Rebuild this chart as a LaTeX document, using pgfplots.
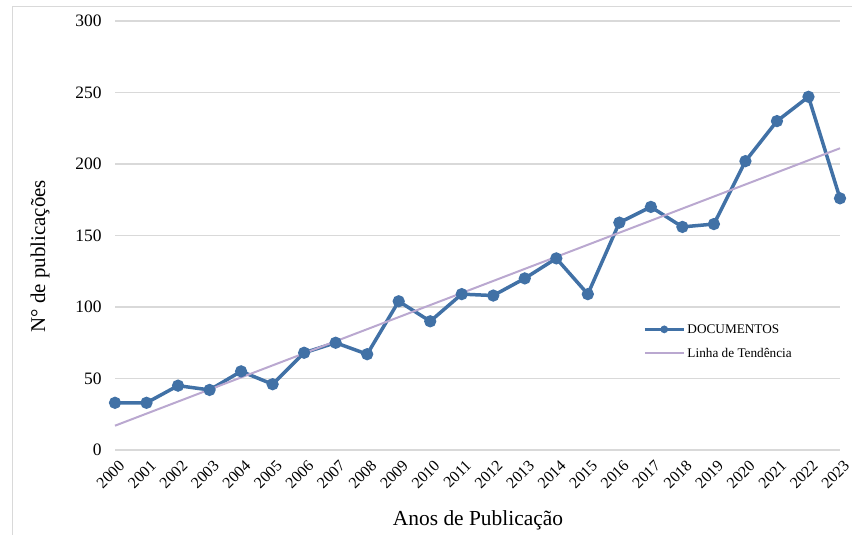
\documentclass[border=0pt]{standalone}
\usepackage{fontspec}
\setmainfont{Liberation Serif}
\usepackage{pgfplots}
\pgfplotsset{compat=1.18}
\definecolor{docblue}{RGB}{65,113,166}
\definecolor{trendc}{RGB}{186,168,208}
\definecolor{gridc}{RGB}{217,217,217}
\pgfplotsset{
  docleg/.style={legend image code/.code={\draw[mark repeat=2,mark phase=2,##1,mark size=2bp] plot coordinates {(0bp,0bp)(19.5bp,0bp)(39bp,0bp)};}},
  trendleg/.style={legend image code/.code={\draw[##1] (0bp,0bp) -- (39bp,0bp);}},
}
\begin{document}
\begin{tikzpicture}
\path[use as bounding box] (0,0) rectangle (852bp,535bp);
\draw[gridc, line width=1bp] (12bp,0) -- (12bp,528bp) -- (852bp,528bp);
\begin{axis}[
  at={(115bp,85bp)}, anchor=south west,
  scale only axis, width=725bp, height=429bp,
  xmin=2000, xmax=2023, ymin=0, ymax=300,
  xtick={2000,...,2023}, ytick={0,50,...,300},
  clip=false,
  axis line style={draw=none}, tick style={draw=none},
  ymajorgrids, grid style={gridc, line width=1.3bp},
  /pgf/number format/assume math mode=true,
  /pgf/number format/1000 sep={},
  yticklabel style={font=\fontsize{17.5}{17.5}\selectfont, xshift=-10bp},
  xticklabel style={font=\fontsize{16}{16}\selectfont, inner sep=1bp, rotate=45, anchor=east, xshift=-3.3bp, yshift=-14bp},
  xlabel={Anos de Publicação},
  ylabel={N° de publicações},
  xlabel style={font=\fontsize{21.5}{21.5}\selectfont, at={(axis description cs:0.5007,-0.163)}, anchor=center},
  ylabel style={font=\fontsize{21}{21}\selectfont, at={(axis description cs:-0.1034,0.452)}, anchor=center},
  legend style={draw=none, fill=none, at={(axis description cs:0.728,0.253)}, anchor=west,
    font=\fontsize{13.3}{13.3}\selectfont, row sep=9.5bp, inner sep=0pt},
  legend cell align=left,
]
\addplot[docblue, line width=3.5bp, mark=*, mark size=4.3bp, mark options={solid}, docleg]
coordinates {
(2000,33) (2001,33) (2002,45) (2003,42) (2004,55) (2005,46) (2006,68) (2007,75)
(2008,67) (2009,104) (2010,90) (2011,109) (2012,108) (2013,120) (2014,134) (2015,109)
(2016,159) (2017,170) (2018,156) (2019,158) (2020,202) (2021,230) (2022,247) (2023,176)
};
\addlegendentry{DOCUMENTOS}
\addplot[trendc, line width=2bp, mark=none, trendleg]
coordinates {(2000,17) (2023,211)};
\addlegendentry{Linha de Tendência}
\end{axis}
\end{tikzpicture}
\end{document}
